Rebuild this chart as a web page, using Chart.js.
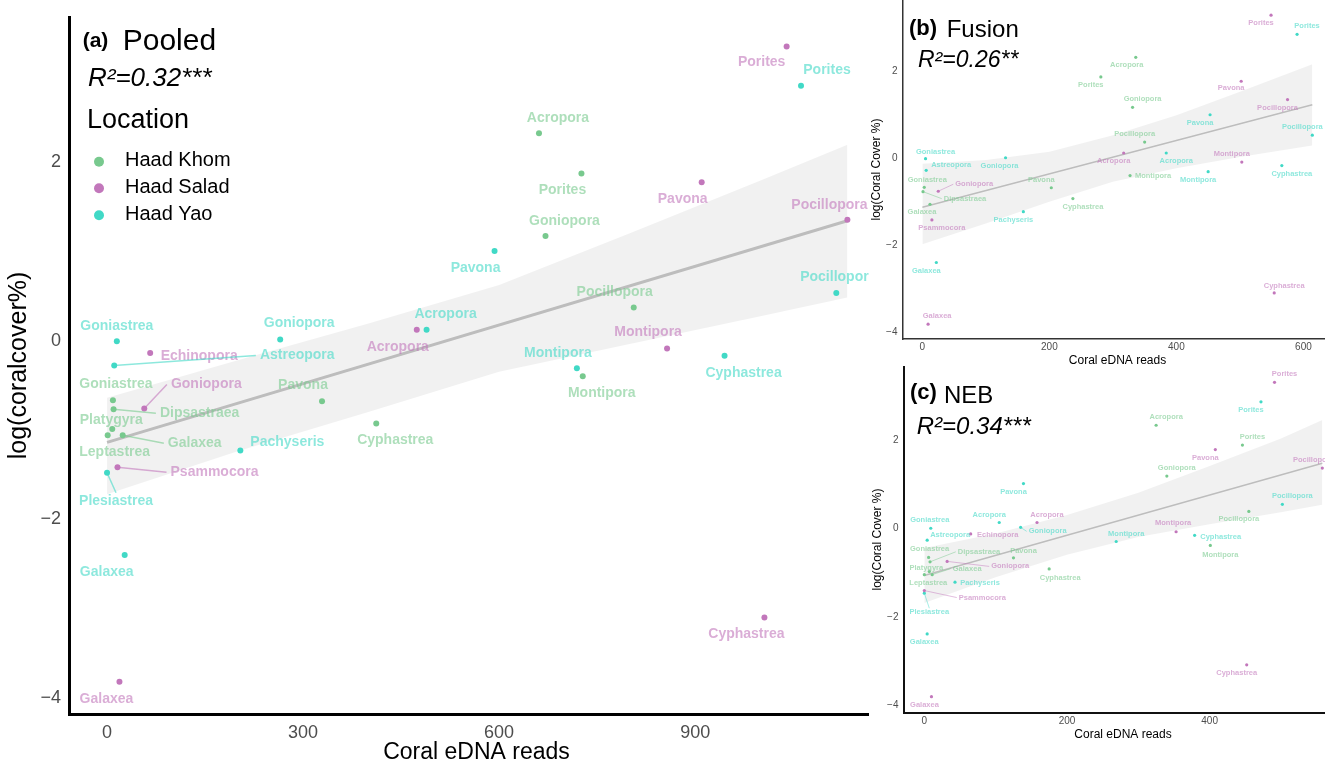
<!DOCTYPE html>
<html>
<head>
<meta charset="utf-8">
<script src="https://cdn.jsdelivr.net/npm/chart.js@4.4.1/dist/chart.umd.min.js"></script>
<style>
    body { margin: 0; width: 1325px; height: 764px; overflow: hidden; background: #fff; position: relative; }
    canvas, .cover { position: absolute; }
    #chartA { left: 0; top: 0; }
    .cover { left: 869px; top: 0; width: 456px; height: 764px; background: #fff; }
    #chartB { left: 870px; top: 0; }
    #chartC { left: 870px; top: 366px; }
</style>
</head>
<body>
<canvas id="chartA" width="886" height="764"></canvas>
<div class="cover"></div>
<canvas id="chartB" width="462" height="372"></canvas>
<canvas id="chartC" width="472" height="398"></canvas>
<script>
// ---- data ----
const locations = ['Haad Khom', 'Haad Salad', 'Haad Yao'];

// log(coral cover %) is the same in every panel, reads differ by pipeline
const khomGenus = ['Acropora', 'Porites', 'Goniopora', 'Pocillopora', 'Montipora', 'Pavona', 'Cyphastrea', 'Goniastrea', 'Dipsastraea', 'Platygyra', 'Leptastrea', 'Galaxea'];
const khomCover = [2.30, 1.85, 1.15, 0.35, -0.42, -0.70, -0.95, -0.69, -0.79, -1.01, -1.08, -1.08];
const khomPooled = [661, 726, 671, 806, 728, 329, 412, 9, 10, 8, 1, 24];
const khomFusion = [336, 281, 331, 350, 327, 203, 237, 3, 1, null, null, 12];
const khomNeb = [325, 446, 340, 455, 401, 125, 175, 6, 8, 7, 0, 11];

const saladGenus = ['Porites', 'Pavona', 'Pocillopora', 'Acropora', 'Echinopora', 'Montipora', 'Goniopora', 'Psammocora', 'Cyphastrea', 'Galaxea'];
const saladCover = [3.27, 1.75, 1.33, 0.10, -0.16, -0.11, -0.78, -1.44, -3.12, -3.84];
const saladPooled = [1040, 910, 1133, 474, 66, 857, 57, 16, 1006, 19];
const saladFusion = [549, 502, 575, 317, null, 503, 25, 15, 554, 9];
const saladNeb = [491, 408, 558, 158, 65, 353, 32, 0, 452, 10];

const yaoGenus = ['Porites', 'Pavona', 'Pocillopora', 'Acropora', 'Goniastrea', 'Goniopora', 'Astreopora', 'Montipora', 'Cyphastrea', 'Pachyseris', 'Plesiastrea', 'Galaxea'];
const yaoCover = [2.83, 0.98, 0.51, 0.10, -0.03, -0.01, -0.30, -0.33, -0.19, -1.25, -1.50, -2.42];
const yaoPooled = [1062, 593, 1116, 489, 15, 265, 11, 719, 945, 204, 0, 27];
const yaoFusion = [590, 453, 614, 384, 5, 131, 6, 450, 566, 159, null, 22];
const yaoNeb = [472, 139, 502, 105, 9, 135, 4, 269, 379, 43, 0, 4];

// linear fits and their confidence bands
const fitXPooled = [0, 1133];
const fitYPooled = [-1.16, 1.32];
const bandXPooled = [0, 200, 400, 600, 800, 1000, 1133];
const bandHiPooled = [-0.66, -0.24, 0.17, 0.60, 1.18, 1.77, 2.17];
const bandLoPooled = [-1.74, -1.26, -0.82, -0.37, -0.06, 0.25, 0.46];

const fitXFusion = [0, 614];
const fitYFusion = [-1.15, 1.21];
const bandXFusion = [0, 100, 200, 300, 400, 500, 614];
const bandHiFusion = [-0.15, -0.06, 0.13, 0.51, 0.97, 1.51, 2.14];
const bandLoFusion = [-2.00, -1.52, -1.02, -0.56, -0.25, 0.01, 0.27];

const fitXNeb = [0, 558];
const fitYNeb = [-1.10, 1.44];
const bandXNeb = [0, 100, 200, 300, 400, 500, 558];
const bandHiNeb = [-0.48, -0.15, 0.27, 0.77, 1.38, 2.00, 2.42];
const bandLoNeb = [-1.72, -1.14, -0.63, -0.23, 0.06, 0.33, 0.50];

const xTicksPooled = [0, 300, 600, 900];
const xTicksFusion = [0, 200, 400, 600];
const xTicksNeb = [0, 200, 400];
const yTicks = [-4, -2, 0, 2];

// ---- label layout (pixel offsets of each genus label, third item = leader line) ----
const offKhomA = [[19, -15], [-19, 17], [19, -15], [-19, -15], [19, 17], [-19, -16], [19, 17], [3, -16], [86, 4, 1], [-1, -9], [7, 17], [72, 8, 1]];
const offSaladA = [[-25, 16], [-19, 17], [-18, -15], [-19, 17], [49, 3], [-19, -16], [62, -24, 1], [97, 5, 1], [-18, 17], [-13, 17]];
const offYaoA = [[26, -16], [-19, 17], [2, -16], [19, -16], [0, -15], [19, -16], [183, -10, 1], [-19, -15], [19, 17], [47, -8], [9, 28, 1], [-18, 17]];

const offKhomB = [[-9, 8], [-10, 8], [10, -8], [-10, -8], [23, 0], [-10, -8], [10, 8], [3, -7], [42, 7, 1], null, null, [-8, 8]];
const offSaladB = [[-10, 8], [-10, 7], [-10, 8], [-10, 8], null, [-10, -8], [36, -7, 1], [10, 8], [10, -7], [9, -8]];
const offYaoB = [[10, -8], [-10, 8], [-10, -8], [10, 8], [10, -7], [-6, 8], [25, -5], [-10, 8], [10, 8], [-10, 8], null, [-10, 8]];

const offKhomC = [[10, -8], [10, -8], [10, -8], [-10, 8], [10, 9], [10, -7], [11, 9], [1, -8], [49, -10, 1], [-3, -4], [4, 8], [35, -6, 1]];
const offSaladC = [[10, -8], [-10, 8], [-9, -8], [10, -8], [27, 1], [-3, -9], [63, 5, 1], [58, 7, 1], [-10, 8], [-7, 8]];
const offYaoC = [[-10, 8], [-10, 8], [10, -8], [-10, -8], [-1, -8], [27, 4, 1], [23, -5], [10, -8], [26, 2], [25, 1], [5, 19, 1], [-3, 8]];

// ---- styling ----
const FONT = '"Liberation Sans", Arial, sans-serif';
Chart.defaults.font.family = FONT;
const colors = ['#78c98e', '#c277bb', '#41d9c6'];
const labelColors = ['rgba(120,201,142,0.6)', 'rgba(194,119,187,0.6)', 'rgba(65,217,198,0.6)'];

const toXY = (xs, ys) => xs.map((x, i) => ({ x: x, y: ys[i] }));

function scatterSet(genus, cover, reads, offsets, k, radius) {
    const pts = [], names = [], offs = [];
    reads.forEach((r, i) => {
        if (r === null) return;
        pts.push({ x: r, y: cover[i] });
        names.push(genus[i]);
        offs.push(offsets[i]);
    });
    return {
        type: 'scatter', label: locations[k], data: pts, genus: names, offsets: offs,
        labelColor: labelColors[k], backgroundColor: colors[k], pointRadius: radius,
        pointBorderWidth: 0, order: 0
    };
}

const genusLabels = {
    id: 'genusLabels',
    afterDatasetsDraw(chart, args, opts) {
        const { ctx, chartArea } = chart;
        ctx.save();
        ctx.beginPath();
        ctx.rect(chartArea.left, chartArea.top, chartArea.width, chartArea.height);
        ctx.clip();
        ctx.font = opts.font;
        ctx.textAlign = 'center';
        ctx.textBaseline = 'middle';
        chart.data.datasets.forEach((ds, di) => {
            if (!ds.genus) return;
            chart.getDatasetMeta(di).data.forEach((pt, i) => {
                const [dx, dy, seg] = ds.offsets[i];
                const lx = pt.x + dx, ly = pt.y + dy;
                if (seg) {
                    const w = ctx.measureText(ds.genus[i]).width;
                    let ex = lx, ey = ly;
                    if (Math.abs(dx) >= Math.abs(dy)) ex = lx - Math.sign(dx) * (w / 2 + opts.gap);
                    else ey = ly - Math.sign(dy) * opts.half;
                    ctx.strokeStyle = ds.labelColor;
                    ctx.lineWidth = opts.segWidth;
                    ctx.beginPath();
                    ctx.moveTo(pt.x, pt.y);
                    ctx.lineTo(ex, ey);
                    ctx.stroke();
                }
                ctx.fillStyle = ds.labelColor;
                ctx.fillText(ds.genus[i], lx, ly);
            });
        });
        ctx.restore();
    }
};

const panelText = {
    id: 'panelText',
    afterDraw(chart, args, opts) {
        const ctx = chart.ctx;
        ctx.save();
        (opts.items || []).forEach(t => {
            ctx.font = t.font;
            ctx.fillStyle = '#000';
            ctx.textAlign = 'left';
            ctx.textBaseline = t.baseline || 'alphabetic';
            ctx.fillText(t.text, t.x, t.y);
        });
        (opts.legend || []).forEach((l, k) => {
            ctx.fillStyle = colors[k];
            ctx.beginPath();
            ctx.arc(l.dotX, l.y, l.r, 0, Math.PI * 2);
            ctx.fill();
            ctx.fillStyle = '#000';
            ctx.font = l.font;
            ctx.textBaseline = 'middle';
            ctx.fillText(locations[k], l.textX, l.y - 1);
        });
        ctx.restore();
    }
};

// keep the axis boxes at fixed sizes and stop the tick labels from padding the plot area
function fixBox(s, size) {
    if (s.isHorizontal()) s.height = size; else s.width = size;
    s.paddingTop = 0; s.paddingBottom = 0; s.paddingLeft = 0; s.paddingRight = 0;
}

function buildPanel(id, p) {
    const datasets = [
        scatterSet(khomGenus, khomCover, p.reads[0], p.offsets[0], 0, p.radius),
        scatterSet(saladGenus, saladCover, p.reads[1], p.offsets[1], 1, p.radius),
        scatterSet(yaoGenus, yaoCover, p.reads[2], p.offsets[2], 2, p.radius),
        { type: 'line', data: toXY(p.fitX, p.fitY), borderColor: '#bdbdbd', borderWidth: p.fitWidth, pointRadius: 0, order: 1 },
        { type: 'line', data: toXY(p.bandX, p.bandLo), borderWidth: 0, pointRadius: 0, fill: false, order: 3 },
        { type: 'line', data: toXY(p.bandX, p.bandHi), borderWidth: 0, pointRadius: 0, fill: '-1', backgroundColor: 'rgba(0,0,0,0.055)', order: 2 }
    ];
    const minus = v => String(v).replace('-', '\u2212');
    new Chart(document.getElementById(id), {
        type: 'scatter',
        data: { datasets: datasets },
        options: {
            responsive: false,
            animation: false,
            layout: { padding: p.padding, autoPadding: false },
            plugins: {
                legend: { display: false },
                tooltip: { enabled: false },
                genusLabels: p.labels,
                panelText: p.text
            },
            scales: {
                x: {
                    type: 'linear', min: p.xMin, max: p.xMax,
                    grid: { display: false, drawTicks: false },
                    border: { color: p.axisColor, width: p.axisWidth },
                    ticks: { font: { size: p.tickSize }, color: '#4d4d4d', padding: p.xTickPad, callback: minus },
                    title: { display: true, text: 'Coral eDNA reads', color: '#000', font: { size: p.titleSize, lineHeight: 1 }, padding: { top: 0, bottom: p.xTitlePad } },
                    afterBuildTicks: s => { s.ticks = p.xTicks.map(v => ({ value: v })); },
                    afterFit: s => fixBox(s, p.xAxisH)
                },
                y: {
                    type: 'linear', min: p.yMin, max: p.yMax,
                    grid: { display: false, drawTicks: false },
                    border: { color: p.axisColor, width: p.axisWidth },
                    ticks: { font: { size: p.tickSize }, color: '#4d4d4d', padding: p.yTickPad, labelOffset: p.yLabelShift, callback: minus },
                    title: { display: true, text: p.yTitle, color: '#000', font: { size: p.yTitleSize, lineHeight: 1 }, padding: { top: p.yTitlePad, bottom: 0 } },
                    afterBuildTicks: s => { s.ticks = yTicks.map(v => ({ value: v })); },
                    afterFit: s => fixBox(s, p.yAxisW)
                }
            }
        },
        plugins: [genusLabels, panelText]
    });
}

// (a) pooled
buildPanel('chartA', {
    reads: [khomPooled, saladPooled, yaoPooled],
    offsets: [offKhomA, offSaladA, offYaoA],
    fitX: fitXPooled, fitY: fitYPooled, bandX: bandXPooled, bandHi: bandHiPooled, bandLo: bandLoPooled,
    xTicks: xTicksPooled, xMin: -58.2, xMax: 1189, yMin: -4.2, yMax: 3.6,
    radius: 3, fitWidth: 3, axisColor: '#000', axisWidth: 3,
    padding: { left: 0, top: 17, right: 2, bottom: 0 }, yAxisW: 69, xAxisH: 50,
    tickSize: 18, xTickPad: 8, yTickPad: 8, yLabelShift: 2, titleSize: 23, yTitleSize: 25, xTitlePad: 0, yTitlePad: 7,
    yTitle: 'log(coralcover%)',
    labels: { font: 'bold 14px ' + FONT, gap: 4, half: 8, segWidth: 1.5 },
    text: {
        items: [
            { text: '(a)', x: 82.7, y: 47, font: 'bold 21px ' + FONT },
            { text: 'Pooled', x: 122.7, y: 50, font: '30px ' + FONT },
            { text: 'R\u00b2=0.32***', x: 88, y: 85.7, font: 'italic 26px ' + FONT },
            { text: 'Location', x: 87, y: 128, font: '27px ' + FONT }
        ],
        legend: [
            { dotX: 99, textX: 125, y: 161.7, r: 5, font: '20px ' + FONT },
            { dotX: 99, textX: 125, y: 188.3, r: 5, font: '20px ' + FONT },
            { dotX: 99, textX: 125, y: 215.3, r: 5, font: '20px ' + FONT }
        ]
    }
});

// (b) fusion
buildPanel('chartB', {
    reads: [khomFusion, saladFusion, yaoFusion],
    offsets: [offKhomB, offSaladB, offYaoB],
    fitX: fitXFusion, fitY: fitYFusion, bandX: bandXFusion, bandHi: bandHiFusion, bandLo: bandLoFusion,
    xTicks: xTicksFusion, xMin: -30.5, xMax: 645, yMin: -4.18, yMax: 3.62,
    radius: 1.6, fitWidth: 1.5, axisColor: '#333', axisWidth: 1.5,
    padding: { left: 0, top: 0, right: 0, bottom: 0 }, yAxisW: 33, xAxisH: 33,
    tickSize: 10, xTickPad: 2, yTickPad: 5.5, yLabelShift: 1, titleSize: 12, yTitleSize: 12, xTitlePad: 5, yTitlePad: 1,
    yTitle: 'log(Coral Cover %)',
    labels: { font: 'bold 7.5px ' + FONT, gap: 2, half: 4, segWidth: 0.8 },
    text: {
        items: [
            { text: '(b)', x: 39, y: 35, font: 'bold 22px ' + FONT },
            { text: 'Fusion', x: 76.7, y: 37.3, font: '24px ' + FONT },
            { text: 'R\u00b2=0.26**', x: 48, y: 66.7, font: 'italic 23px ' + FONT }
        ]
    }
});

// (c) NEB
buildPanel('chartC', {
    reads: [khomNeb, saladNeb, yaoNeb],
    offsets: [offKhomC, offSaladC, offYaoC],
    fitX: fitXNeb, fitY: fitYNeb, bandX: bandXNeb, bandHi: bandHiNeb, bandLo: bandLoNeb,
    xTicks: xTicksNeb, xMin: -28.5, xMax: 585.6, yMin: -4.21, yMax: 3.64,
    radius: 1.6, fitWidth: 1.5, axisColor: '#111', axisWidth: 2,
    padding: { left: 0, top: 0, right: 0, bottom: 0 }, yAxisW: 34, xAxisH: 51,
    tickSize: 10, xTickPad: 2.5, yTickPad: 5.5, yLabelShift: 1.5, titleSize: 12, yTitleSize: 12, xTitlePad: 23.7, yTitlePad: 1.3,
    yTitle: 'log(Coral Cover %)',
    labels: { font: 'bold 7.5px ' + FONT, gap: 2, half: 4, segWidth: 0.8 },
    text: {
        items: [
            { text: '(c)', x: 40, y: 33, font: 'bold 22px ' + FONT },
            { text: 'NEB', x: 74, y: 36.7, font: '24px ' + FONT },
            { text: 'R\u00b2=0.34***', x: 46.7, y: 68.3, font: 'italic 24px ' + FONT }
        ]
    }
});
</script>
</body>
</html>
